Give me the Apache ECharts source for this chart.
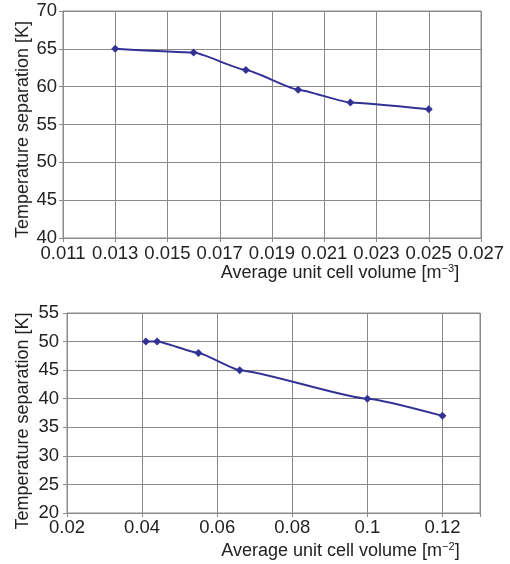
<!DOCTYPE html>
<html>
<head>
<meta charset="utf-8">
<script src="https://cdn.jsdelivr.net/npm/echarts@6/dist/echarts.min.js"></script>
<style>
  html, body { margin: 0; padding: 0; background: #fff; }
  #chart { width: 510px; height: 564px; }
</style>
</head>
<body>
<div id="chart"></div>
<script>
// top panel: volume in m^-3
const volTop = [0.013, 0.016, 0.018, 0.020, 0.022, 0.025]
const sepTop = [65, 64.5, 62.2, 59.6, 57.9, 57]
// bottom panel: volume in m^-2
const volBottom = [0.041, 0.044, 0.055, 0.066, 0.1, 0.12]
const sepBottom = [50, 50, 48, 45, 40, 37]

const xTicksTop = ['0.011', '0.013', '0.015', '0.017', '0.019', '0.021', '0.023', '0.025', '0.027']
const xTicksBottom = ['0.02', '0.04', '0.06', '0.08', '0.1', '0.12']
const yTicksTop = ['40', '45', '50', '55', '60', '65', '70']
const yTicksBottom = ['20', '25', '30', '35', '40', '45', '50', '55']

const FONT = '"Liberation Sans", Arial, sans-serif'
const LINE = '#323294'
const GRID = '#8a8a8a'
const TEXT = '#222'

const zip = (xs, ys) => xs.map((x, i) => [x, ys[i]])

// pick the label text that matches a tick value
const pick = (list) => (v) => {
  const hit = list.find(t => Math.abs(parseFloat(t) - v) < 1e-6)
  return hit || ''
}

const axisCommon = {
  axisLine: { show: true, lineStyle: { color: GRID, width: 1 } },
  axisTick: { show: true, length: 4, lineStyle: { color: GRID } },
  splitLine: { show: true, lineStyle: { color: GRID, width: 1 } },
  axisLabel: { color: TEXT, fontSize: 18.5, fontFamily: FONT, interval: 0, hideOverlap: false },
  nameTextStyle: { color: TEXT, fontSize: 18, fontFamily: FONT },
  nameMoveOverlap: false
}

const xName = (exp) => '{a|Average unit cell volume [m}{s|−' + exp + '}{a|]}'
const richName = {
  a: { fontSize: 18, fontFamily: FONT, color: TEXT },
  s: { fontSize: 11, fontFamily: FONT, color: TEXT, padding: [0, 0, 9, 0] }
}

const option = {
  animation: false,
  backgroundColor: '#fff',
  grid: [
    { left: 63, right: 29, top: 11, height: 227, show: true, borderColor: GRID, borderWidth: 1, outerBoundsMode: 'none' },
    { left: 67, right: 30, top: 313, height: 200, show: true, borderColor: GRID, borderWidth: 1, outerBoundsMode: 'none' }
  ],
  xAxis: [
    {
      ...axisCommon,
      type: 'value', gridIndex: 0,
      min: 0.011, max: 0.027, interval: 0.002,
      axisLabel: { ...axisCommon.axisLabel, margin: 6, formatter: pick(xTicksTop) },
      name: xName(3), nameLocation: 'middle', nameGap: 25,
      nameTextStyle: { ...axisCommon.nameTextStyle, padding: [0, 0, 0, 136], rich: richName }
    },
    {
      ...axisCommon,
      type: 'value', gridIndex: 1,
      min: 0.02, max: 0.13, interval: 0.02,
      axisLabel: { ...axisCommon.axisLabel, margin: 5, formatter: pick(xTicksBottom) },
      name: xName(2), nameLocation: 'middle', nameGap: 28,
      nameTextStyle: { ...axisCommon.nameTextStyle, padding: [0, 0, 0, 134], rich: richName }
    }
  ],
  yAxis: [
    {
      ...axisCommon,
      type: 'value', gridIndex: 0,
      min: 40, max: 70, interval: 5,
      axisLabel: { ...axisCommon.axisLabel, margin: 6, formatter: pick(yTicksTop), padding: [4, 0, 0, 0] },
      name: 'Temperature separation [K]', nameLocation: 'middle', nameGap: 31,
      nameTextStyle: { ...axisCommon.nameTextStyle, padding: [0, 10, 0, 0] }
    },
    {
      ...axisCommon,
      type: 'value', gridIndex: 1,
      min: 20, max: 55, interval: 5,
      axisLabel: { ...axisCommon.axisLabel, margin: 8, formatter: pick(yTicksBottom), padding: [2, 0, 0, 0] },
      name: 'Temperature separation [K]', nameLocation: 'middle', nameGap: 35,
      nameTextStyle: { ...axisCommon.nameTextStyle, padding: [0, 16, 0, 0] }
    }
  ],
  series: [
    {
      type: 'line', xAxisIndex: 0, yAxisIndex: 0,
      data: zip(volTop, sepTop),
      smooth: 0.15, smoothMonotone: 'x',
      symbol: 'diamond', symbolSize: 8,
      lineStyle: { color: LINE, width: 2 },
      itemStyle: { color: LINE }
    },
    {
      type: 'line', xAxisIndex: 1, yAxisIndex: 1,
      data: zip(volBottom, sepBottom),
      smooth: 0.15, smoothMonotone: 'x',
      symbol: 'diamond', symbolSize: 8,
      lineStyle: { color: LINE, width: 2 },
      itemStyle: { color: LINE }
    }
  ]
}

const chart = echarts.init(document.getElementById('chart'))
chart.setOption(option)
window.addEventListener('resize', () => chart.resize())
</script>
</body>
</html>
